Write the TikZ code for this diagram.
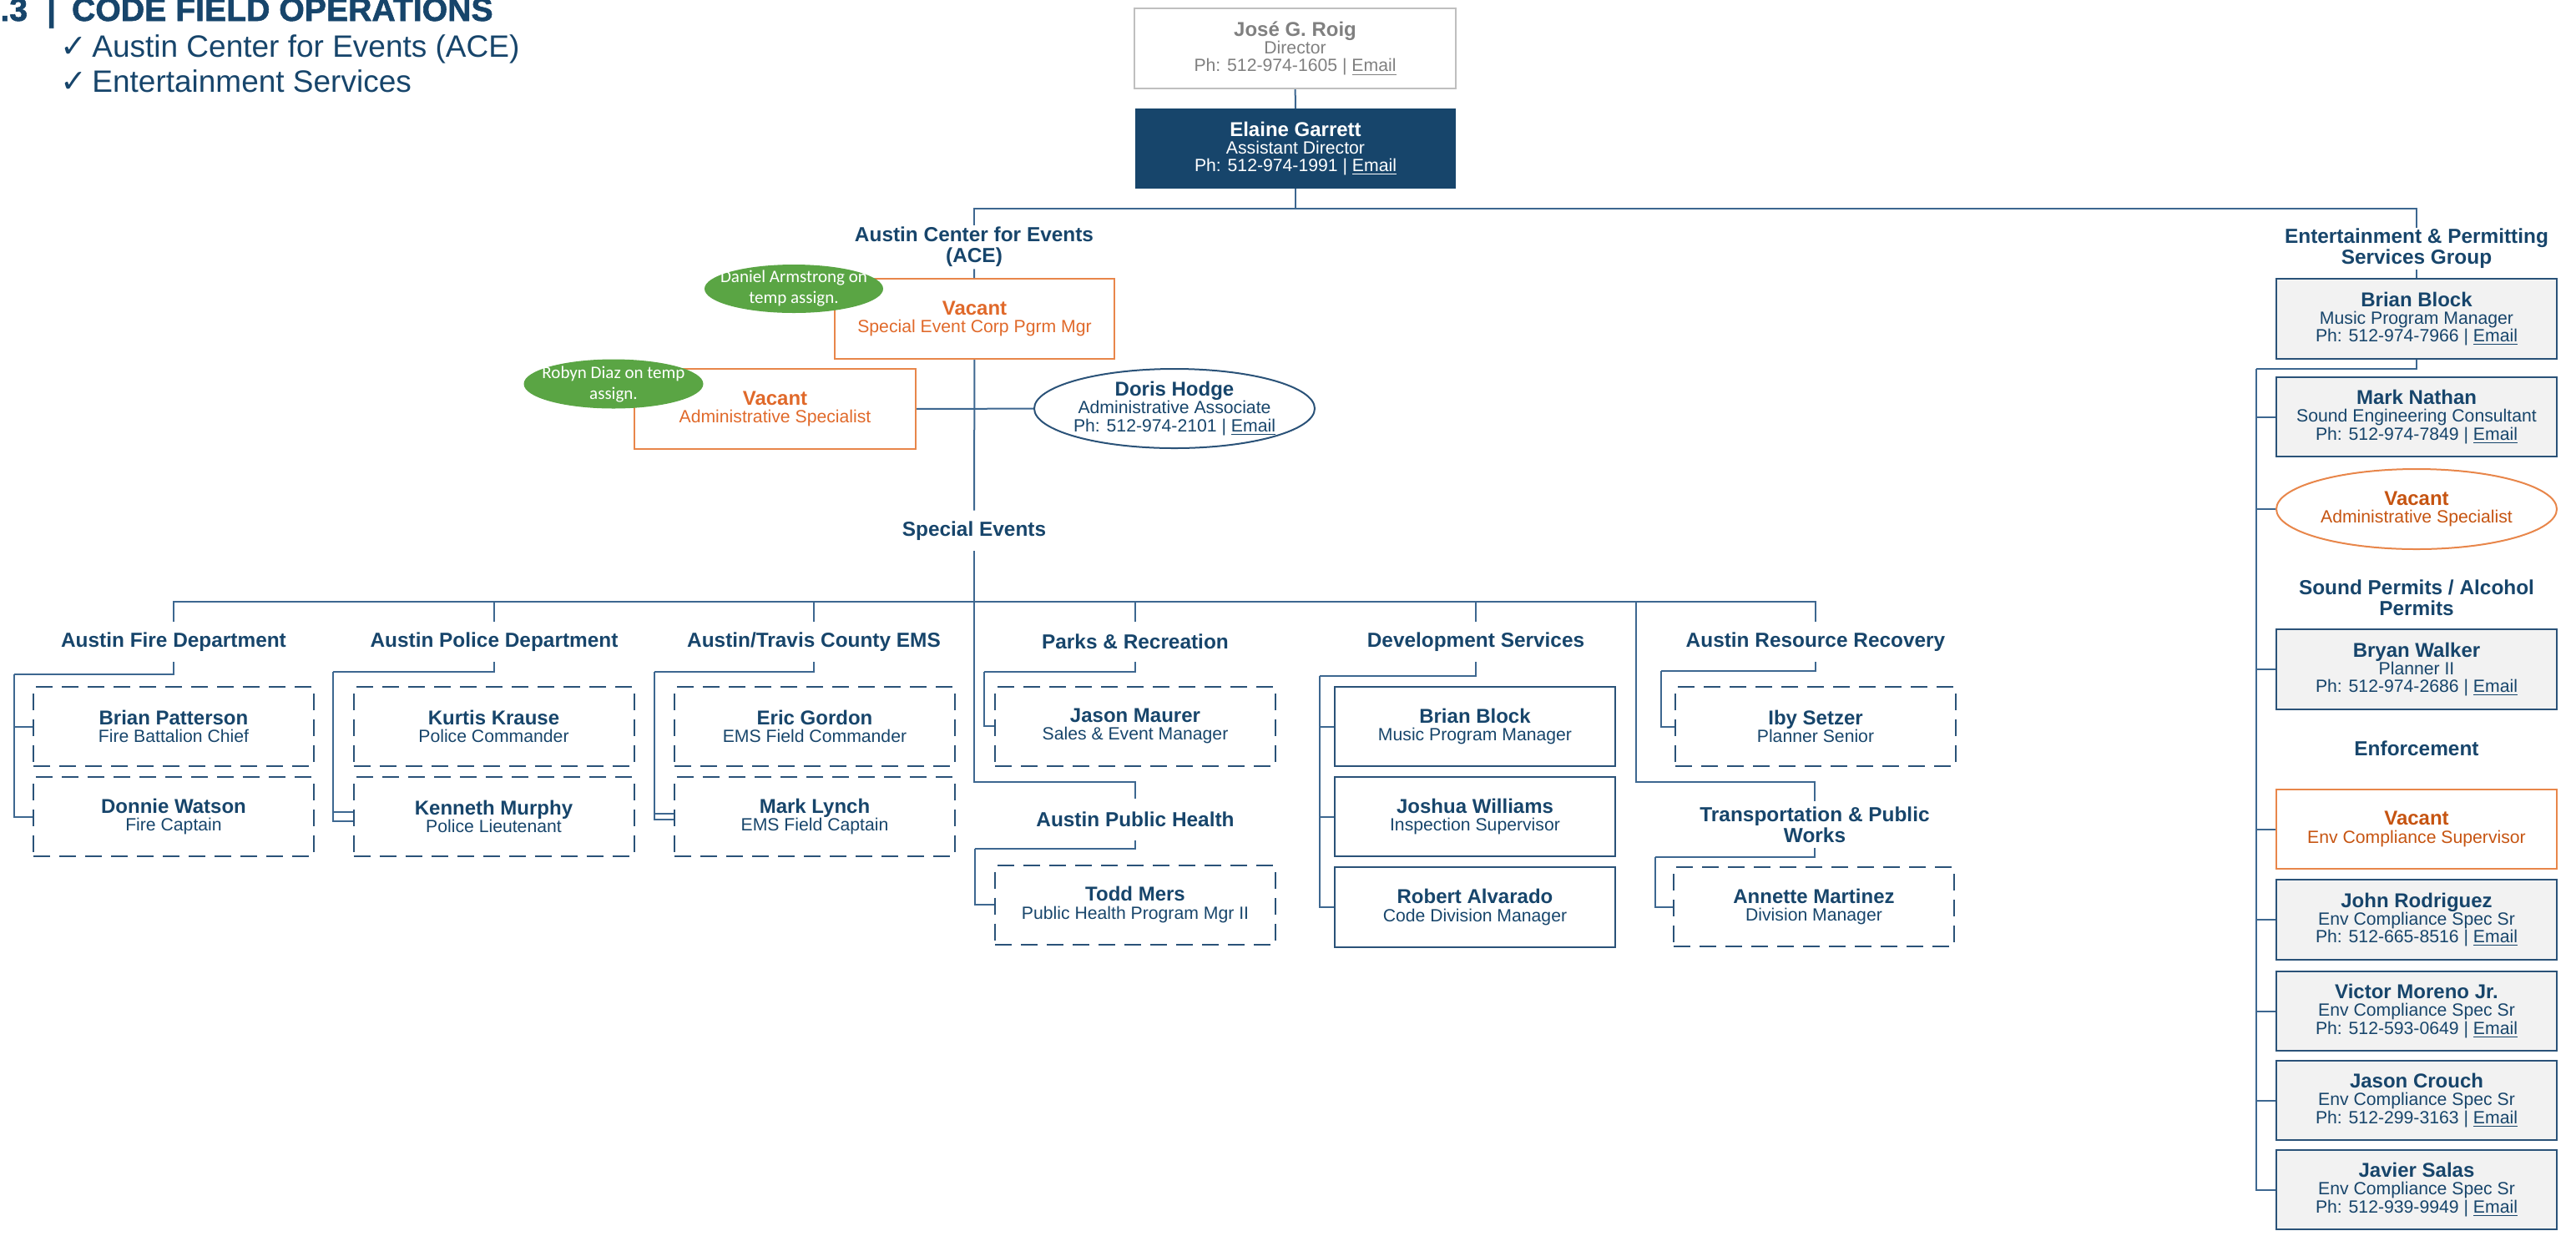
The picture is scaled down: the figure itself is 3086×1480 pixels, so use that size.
\documentclass[tikz,border=0pt]{standalone}
\usepackage{fontspec}
\setmainfont{Liberation Sans}
\newfontfamily\calf{Carlito}
\newfontfamily\symf{DejaVu Sans}
\newfontfamily\titlef{Liberation Sans}[BoldFeatures={FakeBold=1.5}]
\usetikzlibrary{shapes.geometric,calc}
\definecolor{navy}{HTML}{17456B}
\definecolor{lineC}{HTML}{3D6790}
\definecolor{boxC}{HTML}{2A5278}
\definecolor{orL}{HTML}{E0692A}
\definecolor{orR}{HTML}{C65411}
\definecolor{orB}{HTML}{E8864A}
\definecolor{greenE}{HTML}{5AA544}
\definecolor{grayT}{HTML}{808080}
\definecolor{grayB}{HTML}{BFBFBF}
\definecolor{fillG}{HTML}{F2F2F2}
\newcommand\tsz{\fontsize{10.6}{10.7}\selectfont}
\newcommand\nmf{\fontsize{12}{10.7}\selectfont\bfseries}
\newcommand\hdf{\fontsize{12.2}{12.5}\selectfont\bfseries}
\newcommand\chk{\makebox[19pt][l]{\symf\bfseries\fontsize{19}{19}\selectfont ✓}}
\tikzset{
 conn/.style={draw=lineC, line width=1pt},
 card/.style={rectangle, inner sep=0pt, align=center, font=\tsz, text=navy, minimum width=168pt, minimum height=47.5pt, line width=1pt},
 dcard/.style={card, draw=boxC, dash pattern=on 10pt off 5.5pt},
 scard/.style={card, draw=boxC},
 gcard/.style={card, draw=boxC, fill=fillG},
 vcard/.style={card, draw=orB, text=orL},
 hd/.style={inner sep=0pt, align=center, font=\hdf, text=navy},
 oval/.style={ellipse, inner sep=0pt, line width=1pt},
 note/.style={oval, fill=greenE, draw=none},
 lab/.style={inner sep=0pt, align=center, font=\tsz, text=navy},
 glab/.style={inner sep=0pt, align=center, text=white, font=\calf\fontsize{10.5}{12.5}\selectfont},
 bullet/.style={anchor=base west, inner sep=0pt, text=navy, font=\fontsize{18.5}{18.5}\selectfont},
}
\begin{document}
\begin{tikzpicture}[x=0.5pt,y=-0.5pt]
\useasboundingbox (0,0) rectangle (3086,1480);

% title
\node[anchor=base west, inner sep=0pt, text=navy, font=\titlef\bfseries\fontsize{19.6}{19.6}\selectfont] (title) at (0,25) {.3\hspace{11.5pt}|\hspace{9.5pt}CODE FIELD OPERATIONS};
\node[bullet] (b1) at (72,68) {\chk Austin Center for Events (ACE)};
\node[bullet] (b2) at (72,110) {\chk Entertainment Services};

% top
\node[card, draw=grayB, text=grayT, minimum width=192.5pt, minimum height=48pt] (jose) at (1551.5,58) {{\nmf José G. Roig}\\Director\\Ph: 512-974-1605 | \underline{Email}};
\node[card, fill=navy, draw=navy, text=white, minimum width=191pt, minimum height=47pt] (elaine) at (1552,178) {{\nmf Elaine Garrett}\\Assistant Director\\Ph: 512-974-1991 | \underline{Email}};

% ACE
\node[hd, minimum height=26pt] (ace) at (1167,296) {Austin Center for Events\\(ACE)};
\node[vcard, minimum width=167.5pt, minimum height=48pt] (vse) at (1167.5,382) {{\nmf Vacant}\\Special Event Corp Pgrm Mgr};
\node[vcard, minimum width=168.5pt, minimum height=48pt] (vas) at (928.5,490) {{\nmf Vacant}\\Administrative Specialist};
\node[oval, draw=boxC, fill=white, minimum width=168pt, minimum height=47.5pt, label={[lab]center:{\nmf Doris Hodge}\\Administrative Associate\\Ph: 512-974-2101 | \underline{Email}}] (doris) at (1407,489.5) {};
\node[note, minimum width=107pt, minimum height=29pt, label={[glab]center:Daniel Armstrong on\\temp assign.}] (dan) at (951,346) {};
\node[note, minimum width=107.5pt, minimum height=29.5pt, label={[glab]center:Robyn Diaz on temp\\assign.}] (rob) at (735,460) {};
\node[hd, minimum height=24pt] (spev) at (1167,636) {Special Events};

% departments
\node[hd, minimum height=24pt] (fire) at (208,769) {Austin Fire Department};
\node[hd, minimum height=24pt] (police) at (592,769) {Austin Police Department};
\node[hd, minimum height=24pt] (ems) at (975,769) {Austin/Travis County EMS};
\node[hd, minimum height=24pt] (parks) at (1360,769) {Parks \& Recreation};
\node[hd, minimum height=24pt] (dev) at (1768,769) {Development Services};
\node[hd, minimum height=24pt] (arr) at (2175,769) {Austin Resource Recovery};
\node[hd, minimum height=25pt] (aph) at (1360,982) {Austin Public Health};
\node[hd, minimum height=28pt] (tpw) at (2174,988) {Transportation \& Public\\Works};

% department boxes
\node[dcard] (bp) at (208,870.5) {{\nmf Brian Patterson}\\Fire Battalion Chief};
\node[dcard] (dw) at (208,978.5) {{\nmf Donnie Watson}\\Fire Captain};
\node[dcard] (kk) at (591.5,870.5) {{\nmf Kurtis Krause}\\Police Commander};
\node[dcard] (km) at (591.5,978.5) {{\nmf Kenneth Murphy}\\Police Lieutenant};
\node[dcard] (eg) at (976,870.5) {{\nmf Eric Gordon}\\EMS Field Commander};
\node[dcard] (ml) at (976,978.5) {{\nmf Mark Lynch}\\EMS Field Captain};
\node[dcard] (jm) at (1360,870) {{\nmf Jason Maurer}\\Sales \& Event Manager};
\node[dcard] (tm) at (1360,1084) {{\nmf Todd Mers}\\Public Health Program Mgr II};
\node[scard] (bb) at (1767,870.5) {{\nmf Brian Block}\\Music Program Manager};
\node[scard] (jw) at (1767,978.5) {{\nmf Joshua Williams}\\Inspection Supervisor};
\node[scard, minimum height=48pt] (ra) at (1767,1087) {{\nmf Robert Alvarado}\\Code Division Manager};
\node[dcard] (is) at (2175,870.5) {{\nmf Iby Setzer}\\Planner Senior};
\node[dcard] (am) at (2173,1086.5) {{\nmf Annette Martinez}\\Division Manager};

% right column
\node[hd, minimum height=25pt] (eps) at (2895,298) {Entertainment \& Permitting\\Services Group};
\node[gcard, minimum height=48pt] (bblk) at (2895,382) {{\nmf Brian Block}\\Music Program Manager\\Ph: 512-974-7966 | \underline{Email}};
\node[gcard] (mn) at (2895,499.5) {{\nmf Mark Nathan}\\Sound Engineering Consultant\\Ph: 512-974-7849 | \underline{Email}};
\node[oval, draw=orB, fill=white, minimum width=168pt, minimum height=48pt, label={[lab, text=orR]center:{\nmf Vacant}\\Administrative Specialist}] (rva) at (2895,610) {};
\node[hd] (sp) at (2895,716) {Sound Permits / Alcohol\\Permits};
\node[gcard, minimum height=48pt] (bw) at (2895,802) {{\nmf Bryan Walker}\\Planner II\\Ph: 512-974-2686 | \underline{Email}};
\node[hd] (enf) at (2895,897) {Enforcement};
\node[card, draw=orB, text=orR] (ecs) at (2895,993.5) {{\nmf Vacant}\\Env Compliance Supervisor};
\node[gcard, minimum height=48pt] (jr) at (2895,1102) {{\nmf John Rodriguez}\\Env Compliance Spec Sr\\Ph: 512-665-8516 | \underline{Email}};
\node[gcard] (vm) at (2895,1211.5) {{\nmf Victor Moreno Jr.}\\Env Compliance Spec Sr\\Ph: 512-593-0649 | \underline{Email}};
\node[gcard] (jc) at (2895,1318.5) {{\nmf Jason Crouch}\\Env Compliance Spec Sr\\Ph: 512-299-3163 | \underline{Email}};
\node[gcard] (js) at (2895,1425.5) {{\nmf Javier Salas}\\Env Compliance Spec Sr\\Ph: 512-939-9949 | \underline{Email}};

% coordinates
\coordinate (topbar) at (1552,250);
\coordinate (midbar) at (1167,721);
\coordinate (apJ) at (1167,937);
\coordinate (tpJ) at (1960,721);
\coordinate (tpK) at (1960,937);
\coordinate (fireS) at (17,808);
\coordinate (polS) at (399,805);
\coordinate (emsS) at (784,805);
\coordinate (parS) at (1179,805);
\coordinate (aphS) at (1168,1017);
\coordinate (devS) at (1581,810);
\coordinate (arrS) at (1990,804);
\coordinate (tpwS) at (1983,1027);
\coordinate (rS) at (2703,442);

% connectors
\draw[conn] (jose) -- (elaine);
\draw[conn] (elaine) -- (topbar);
\draw[conn] (ace.north) |- (topbar) -| (eps.north);
\draw[conn] (ace) -- (vse);
\draw[conn] (vse) -- (spev);
\draw[conn] (vas) -- (doris);
\draw[conn] (spev.south) -- (midbar);
\draw[conn] (fire.north) |- (midbar) -| (arr.north);
\draw[conn] (police.north) -- (police.north |- midbar);
\draw[conn] (ems.north) -- (ems.north |- midbar);
\draw[conn] (parks.north) -- (parks.north |- midbar);
\draw[conn] (dev.north) -- (dev.north |- midbar);
\draw[conn] (midbar) -- (apJ) -| (aph.north);
\draw[conn] (tpJ) -- (tpK) -| (tpw.north);
% brackets
\draw[conn] (fire.south) |- (fireS);
\draw[conn] (fireS) |- (bp.west);
\draw[conn] (fireS) |- (dw.west);
\draw[conn] (police.south) |- (polS);
\draw[conn] (polS) |- ([yshift=-2.75pt]km.west);
\draw[conn] (polS) |- ([yshift=2.75pt]km.west);
\draw[conn] (ems.south) |- (emsS);
\draw[conn] (emsS) |- ([yshift=-1.75pt]ml.west);
\draw[conn] (emsS) |- ([yshift=1.75pt]ml.west);
\draw[conn] (parks.south) |- (parS);
\draw[conn] (parS) |- (jm.west);
\draw[conn] (aph.south) |- (aphS);
\draw[conn] (aphS) |- (tm.west);
\draw[conn] (dev.south) |- (devS);
\draw[conn] (devS) |- (bb.west);
\draw[conn] (devS) |- (jw.west);
\draw[conn] (devS) |- (ra.west);
\draw[conn] (arr.south) |- (arrS);
\draw[conn] (arrS) |- (is.west);
\draw[conn] (tpw.south) |- (tpwS);
\draw[conn] (tpwS) |- (am.west);
\draw[conn] (eps) -- (bblk);
\draw[conn] (bblk.south) |- (rS);
\draw[conn] (rS) |- (mn.west);
\draw[conn] (rS) |- (rva.west);
\draw[conn] (rS) |- (bw.west);
\draw[conn] (rS) |- (ecs.west);
\draw[conn] (rS) |- (jr.west);
\draw[conn] (rS) |- (vm.west);
\draw[conn] (rS) |- (jc.west);
\draw[conn] (rS) |- (js.west);
\end{tikzpicture}
\end{document}
